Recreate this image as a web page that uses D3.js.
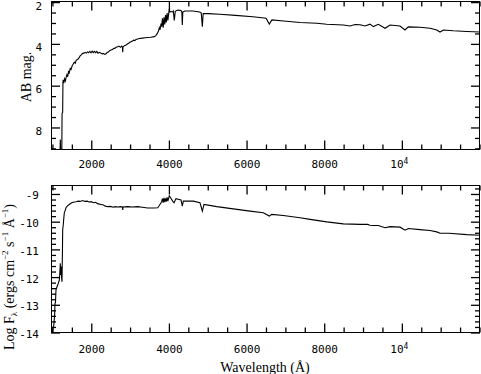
<!DOCTYPE html>
<html><head><meta charset="utf-8">
<script src="https://cdn.jsdelivr.net/npm/d3@7"></script>
<style>body{margin:0;background:#fff}svg{display:block}</style>
</head><body>
<script>
// ---- data ----
const topWave = [1180,1190,1200,1228,1235,1250,1258,1265,1280,1300,1320,1336,1360,1380,1400,1420,1445,1465,1500,1520,1550,1575,1600,1638,1670,1700,1730,1767,1800,1830,1860,1895,1920,1950,1980,2010,2040,2065,2100,2130,2160,2200,2238,2270,2300,2340,2367,2400,2430,2460,2496,2530,2560,2600,2630,2668,2700,2740,2770,2790,2797,2805,2840,2882,2920,2950,2980,3011,3050,3080,3110,3140,3183,3230,3300,3380,3441,3520,3611,3650,3681,3720,3740,3760,3784,3800,3820,3840,3860,3880,3900,3920,3940,3960,3980,3997,4010,4041,4080,4100,4126,4150,4214,4300,4320,4332,4345,4400,4600,4780,4820,4848,4870,5000,5300,5700,6150,6490,6573,6640,6940,7370,7800,8052,8480,8652,8780,8910,9039,9167,9253,9381,9554,9683,9940,10069,10154,10455,10713,10886,10970,11056,11314,11659,12000];
const topMag = [9.3,8.55,9.3,9.3,7.3,7.25,5.8,5.7,5.85,5.65,5.75,5.6,5.45,5.55,5.3,5.35,5.15,5.2,5.0,4.95,4.85,4.9,4.75,4.72,4.65,4.55,4.5,4.43,4.42,4.38,4.42,4.36,4.4,4.33,4.4,4.32,4.39,4.33,4.4,4.34,4.42,4.38,4.42,4.45,4.43,4.48,4.45,4.38,4.36,4.3,4.27,4.25,4.2,4.18,4.14,4.11,4.08,4.14,4.08,4.12,4.38,4.12,4.06,4.03,3.98,3.95,3.9,3.87,3.84,3.8,3.82,3.76,3.74,3.72,3.7,3.68,3.67,3.66,3.63,3.58,3.5,3.35,3.2,3.3,3.0,3.15,2.75,3.2,2.7,3.05,2.6,2.95,2.5,2.85,2.55,2.3,2.45,2.43,2.45,2.4,2.85,2.42,2.36,2.38,2.45,3.07,2.45,2.4,2.4,2.45,2.5,3.15,2.52,2.53,2.56,2.61,2.68,2.75,3.03,2.83,2.88,2.95,2.99,3.04,3.07,3.12,3.05,3.06,3.12,3.03,3.15,3.04,3.23,3.07,3.12,3.31,3.16,3.18,3.23,3.31,3.41,3.31,3.35,3.38,3.41];

const botWave = [955,990,1000,1020,1035,1045,1053,1065,1079,1100,1123,1140,1164,1175,1190,1198,1208,1215,1222,1233,1245,1251,1265,1277,1293,1310,1336,1380,1421,1480,1550,1600,1650,1700,1767,1820,1880,1930,1980,2050,2100,2150,2238,2300,2350,2411,2480,2550,2600,2668,2740,2790,2797,2805,2926,3050,3183,3300,3441,3600,3699,3740,3784,3800,3820,3840,3860,3880,3900,3920,3940,3960,3997,4030,4085,4120,4170,4250,4299,4332,4358,4616,4788,4848,4891,5219,5646,6076,6419,6573,6635,6934,7364,7622,8052,8480,8910,9100,9167,9253,9381,9554,9683,9940,10069,10154,10455,10713,10886,10970,11200,11659,12000];
const botFlux = [-14.1,-13.95,-13.8,-13.75,-13.5,-13.3,-12.93,-12.9,-12.44,-12.35,-12.27,-12.2,-12.09,-11.9,-11.48,-11.9,-11.84,-11.6,-12.0,-12.15,-11.0,-10.27,-10.1,-9.9,-9.66,-9.6,-9.48,-9.4,-9.36,-9.3,-9.27,-9.26,-9.24,-9.25,-9.22,-9.25,-9.24,-9.27,-9.26,-9.3,-9.28,-9.33,-9.36,-9.38,-9.42,-9.44,-9.43,-9.46,-9.44,-9.45,-9.44,-9.45,-9.56,-9.45,-9.44,-9.45,-9.44,-9.46,-9.49,-9.49,-9.48,-9.4,-9.3,-9.25,-9.15,-9.3,-9.12,-9.28,-9.14,-9.26,-9.1,-9.24,-9.05,-9.12,-9.24,-9.3,-9.15,-9.18,-9.2,-9.42,-9.24,-9.24,-9.3,-9.6,-9.36,-9.44,-9.52,-9.6,-9.66,-9.78,-9.72,-9.76,-9.84,-9.9,-9.99,-10.06,-10.08,-10.08,-10.11,-10.12,-10.12,-10.2,-10.16,-10.18,-10.29,-10.23,-10.27,-10.3,-10.35,-10.4,-10.4,-10.45,-10.47];

const xMajor = [2000,4000,6000,8000,10000];
const xLabels = ["2000","4000","6000","8000","10"];
const topYMajor = [2,4,6,8];
const topYLabels = ["2","4","6","8"];
const botYMajor = [-9,-10,-11,-12,-13,-14];
const botYLabels = ["-9","-10","-11","-12","-13","-14"];

// ---- layout ----
const W = 481, H = 374;
const svg = d3.select("body").append("svg").attr("width", W).attr("height", H);
const L = 51, R = 480;
const x = d3.scaleLinear().domain([950, 12000]).range([L, R]);
const yTop = d3.scaleLinear().domain([1.9, 9.03]).range([0.5, 149.5]);
const yBot = d3.scaleLinear().domain([-14, -8.64]).range([333, 184.5]);

const xMinor = d3.range(1000, 12001, 500).filter(v => !xMajor.includes(v));
const topYMinor = d3.range(2, 9.01, 0.5).map(v => +v.toFixed(2)).filter(v => !topYMajor.includes(v));
const botYMinor = d3.range(-14, -8.6, 0.2).map(v => +v.toFixed(2)).filter(v => Math.abs(v - Math.round(v)) > 1e-6);

const monoFont = "'DejaVu Sans Mono', 'Liberation Mono', monospace";
const serifFont = "'Liberation Serif', 'DejaVu Serif', serif";
const MAJ = 9, MIN = 5;

const panels = [
  {y: yTop, yMaj: topYMajor, yLab: topYLabels, yMin: topYMinor, yLabX: 42, yLabDy: 7, xLabY: 168, clip: "clipTop", wave: topWave, val: topMag},
  {y: yBot, yMaj: botYMajor, yLab: botYLabels, yMin: botYMinor, yLabX: 39, yLabDy: 5, xLabY: 353, clip: "clipBot", wave: botWave, val: botFlux}
];

panels.forEach(P => {
  const y = P.y, r = y.range();
  P.top = Math.round(Math.min(r[0], r[1])) + 0.5;
  P.bot = Math.round(Math.max(r[0], r[1])) - 0.5;
  svg.append("clipPath").attr("id", P.clip).append("rect")
    .attr("x", L).attr("y", P.top).attr("width", R - L).attr("height", P.bot - P.top);
  const data = P.wave.map((w, i) => [w, P.val[i]]);
  svg.append("path").datum(data).attr("clip-path", `url(#${P.clip})`)
    .attr("fill", "none").attr("stroke", "#000").attr("stroke-width", 1.1)
    .attr("d", d3.line().x(d => x(d[0])).y(d => y(d[1])));
  svg.append("rect").attr("x", L + 0.5).attr("y", P.top)
    .attr("width", R - L - 1).attr("height", P.bot - P.top)
    .attr("fill", "none").attr("stroke", "#000").attr("stroke-width", 1);
  const xl = svg.append("g").selectAll("text").data(xMajor).join("text")
    .attr("x", d => x(d)).attr("y", P.xLabY).attr("text-anchor", "middle")
    .style("font-family", monoFont).style("font-size", "11px").attr("fill", "#000")
    .text((d, i) => xLabels[i]);
  xl.filter(d => d === 10000).attr("x", d => x(d) - 3)
    .append("tspan").attr("dy", "-4").style("font-size", "8px").text("4");
  svg.append("g").selectAll("text").data(P.yMaj).join("text")
    .attr("x", P.yLabX).attr("y", d => y(d) + P.yLabDy).attr("text-anchor", "end")
    .style("font-family", monoFont).style("font-size", "11px").attr("fill", "#000")
    .text((d, i) => P.yLab[i]);
});

// ticks (inward, on all four sides)
panels.forEach(P => {
  const y = P.y, top = P.top, bot = P.bot;
  const xt = xMajor.map(v => ({v, len: MAJ})).concat(xMinor.map(v => ({v, len: MIN})));
  const yt = P.yMaj.map(v => ({v, len: MAJ})).concat(P.yMin.map(v => ({v, len: MIN})));
  const tg = svg.append("g").attr("stroke", "#000").attr("stroke-width", 1.3);
  tg.selectAll("line.xb").data(xt).join("line").attr("class", "xb")
    .attr("x1", d => x(d.v)).attr("x2", d => x(d.v))
    .attr("y1", bot).attr("y2", d => bot - d.len);
  tg.selectAll("line.xt").data(xt).join("line").attr("class", "xt")
    .attr("x1", d => x(d.v)).attr("x2", d => x(d.v))
    .attr("y1", top).attr("y2", d => top + d.len);
  tg.selectAll("line.yl").data(yt).join("line").attr("class", "yl")
    .attr("x1", L).attr("x2", d => L + d.len)
    .attr("y1", d => y(d.v)).attr("y2", d => y(d.v));
  tg.selectAll("line.yr").data(yt).join("line").attr("class", "yr")
    .attr("x1", R).attr("x2", d => R - d.len)
    .attr("y1", d => y(d.v)).attr("y2", d => y(d.v));
});

// axis titles
svg.append("text").attr("transform", "translate(31,77) rotate(-90)")
  .attr("text-anchor", "middle").style("font-family", serifFont).style("font-size", "14px")
  .text("AB mag.");

const yl = svg.append("text").attr("transform", "translate(14,277) rotate(-90)")
  .attr("text-anchor", "middle").style("font-family", serifFont).style("font-size", "14px");
yl.append("tspan").text("Log F");
yl.append("tspan").style("font-size", "9px").attr("dy", 3).text("λ");
yl.append("tspan").attr("dy", -3).text(" (ergs cm");
yl.append("tspan").style("font-size", "9px").attr("dy", -6).text("−2");
yl.append("tspan").attr("dy", 6).text(" s");
yl.append("tspan").style("font-size", "9px").attr("dy", -6).text("−1");
yl.append("tspan").attr("dy", 6).text(" Å");
yl.append("tspan").style("font-size", "9px").attr("dy", -6).text("−1");
yl.append("tspan").attr("dy", 6).text(")");

svg.append("text").attr("x", 265).attr("y", 372)
  .attr("text-anchor", "middle").style("font-family", serifFont).style("font-size", "14px")
  .text("Wavelength (Å)");
</script>
</body></html>
